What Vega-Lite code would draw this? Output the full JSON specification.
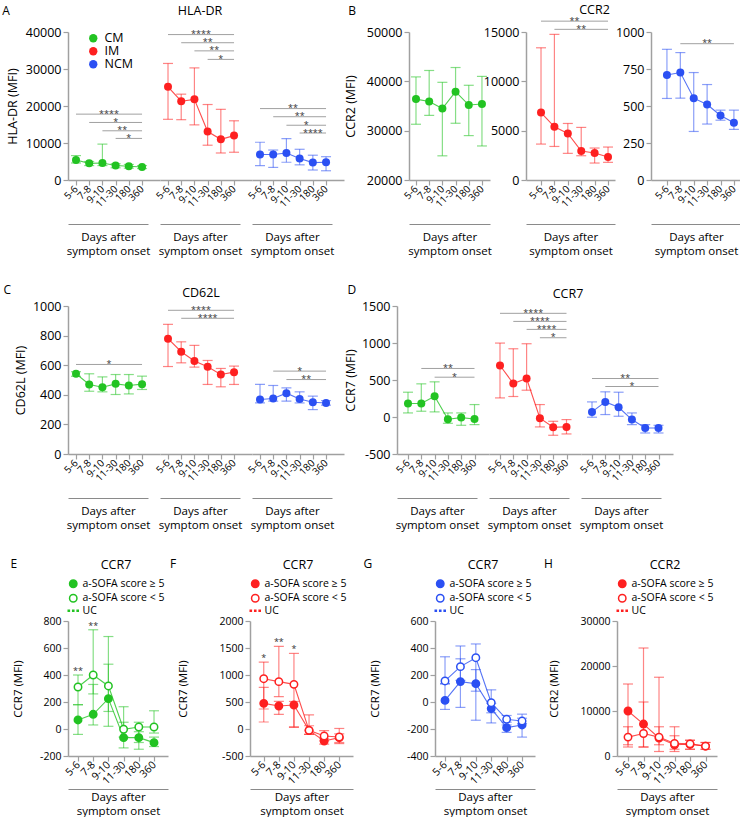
{
"$schema":"https://vega.github.io/schema/vega-lite/v6.json",
"padding":{"left":2,"top":4,"right":0,"bottom":0},
"config":{"font":"Open Sans","view":{"stroke":null},
"axis":{"grid":false,"domainColor":"#a0a0a0","domainWidth":1.5,"tickColor":"#a0a0a0","tickWidth":1.2,"tickSize":5,"labelColor":"#000","titleColor":"#000","titleFontWeight":"normal","labelPadding":2},
"axisY":{"labelFontSize":12.5,"titleFontSize":12.5,"labelOverlap":false,"tickCount":20},
"title":{"fontWeight":"normal","fontSize":12.5,"color":"#000"},
"legend":{"labelColor":"#000","titleColor":"#000"}},
"datasets":{
"pts":[
{"panel":"A-CM","cell":"CM","d":1,"mean":5400,"lo":4600,"hi":6600},{"panel":"A-CM","cell":"CM","d":2,"mean":4500,"lo":3900,"hi":5000},{"panel":"A-CM","cell":"CM","d":3,"mean":4600,"lo":3900,"hi":9700},{"panel":"A-CM","cell":"CM","d":4,"mean":3900,"lo":3300,"hi":4400},{"panel":"A-CM","cell":"CM","d":5,"mean":3700,"lo":3200,"hi":4200},{"panel":"A-CM","cell":"CM","d":6,"mean":3500,"lo":3100,"hi":3900},
{"panel":"A-IM","cell":"IM","d":1,"mean":25200,"lo":16400,"hi":31500},{"panel":"A-IM","cell":"IM","d":2,"mean":21300,"lo":16300,"hi":23200},{"panel":"A-IM","cell":"IM","d":3,"mean":21800,"lo":14900,"hi":30300},{"panel":"A-IM","cell":"IM","d":4,"mean":13100,"lo":9400,"hi":20400},{"panel":"A-IM","cell":"IM","d":5,"mean":11000,"lo":7300,"hi":19100},{"panel":"A-IM","cell":"IM","d":6,"mean":12000,"lo":7500,"hi":16000},
{"panel":"A-NCM","cell":"NCM","d":1,"mean":6900,"lo":3900,"hi":10200},{"panel":"A-NCM","cell":"NCM","d":2,"mean":6900,"lo":3400,"hi":8100},{"panel":"A-NCM","cell":"NCM","d":3,"mean":7300,"lo":4800,"hi":11200},{"panel":"A-NCM","cell":"NCM","d":4,"mean":5800,"lo":4100,"hi":8300},{"panel":"A-NCM","cell":"NCM","d":5,"mean":4700,"lo":2700,"hi":6700},{"panel":"A-NCM","cell":"NCM","d":6,"mean":4800,"lo":2500,"hi":6300},
{"panel":"B-CM","cell":"CM","d":1,"mean":36400,"lo":31300,"hi":40900},{"panel":"B-CM","cell":"CM","d":2,"mean":35900,"lo":33100,"hi":42200},{"panel":"B-CM","cell":"CM","d":3,"mean":34500,"lo":24900,"hi":39800},{"panel":"B-CM","cell":"CM","d":4,"mean":37900,"lo":31500,"hi":42800},{"panel":"B-CM","cell":"CM","d":5,"mean":35200,"lo":29000,"hi":39200},{"panel":"B-CM","cell":"CM","d":6,"mean":35400,"lo":26900,"hi":41000},
{"panel":"B-IM","cell":"IM","d":1,"mean":6840,"lo":3640,"hi":13400},{"panel":"B-IM","cell":"IM","d":2,"mean":5390,"lo":3400,"hi":14760},{"panel":"B-IM","cell":"IM","d":3,"mean":4720,"lo":2700,"hi":5730},{"panel":"B-IM","cell":"IM","d":4,"mean":2930,"lo":2460,"hi":5330},{"panel":"B-IM","cell":"IM","d":5,"mean":2730,"lo":1720,"hi":3240},{"panel":"B-IM","cell":"IM","d":6,"mean":2330,"lo":1790,"hi":3340},
{"panel":"B-NCM","cell":"NCM","d":1,"mean":710,"lo":551,"hi":883},{"panel":"B-NCM","cell":"NCM","d":2,"mean":726,"lo":553,"hi":861},{"panel":"B-NCM","cell":"NCM","d":3,"mean":553,"lo":328,"hi":726},{"panel":"B-NCM","cell":"NCM","d":4,"mean":510,"lo":378,"hi":645},{"panel":"B-NCM","cell":"NCM","d":5,"mean":436,"lo":404,"hi":472},{"panel":"B-NCM","cell":"NCM","d":6,"mean":387,"lo":342,"hi":472},
{"panel":"C-CM","cell":"CM","d":1,"mean":542,"lo":525,"hi":556},{"panel":"C-CM","cell":"CM","d":2,"mean":470,"lo":424,"hi":542},{"panel":"C-CM","cell":"CM","d":3,"mean":451,"lo":420,"hi":521},{"panel":"C-CM","cell":"CM","d":4,"mean":474,"lo":402,"hi":537},{"panel":"C-CM","cell":"CM","d":5,"mean":463,"lo":406,"hi":537},{"panel":"C-CM","cell":"CM","d":6,"mean":472,"lo":436,"hi":526},
{"panel":"C-IM","cell":"IM","d":1,"mean":779,"lo":591,"hi":876},{"panel":"C-IM","cell":"IM","d":2,"mean":691,"lo":616,"hi":758},{"panel":"C-IM","cell":"IM","d":3,"mean":628,"lo":587,"hi":734},{"panel":"C-IM","cell":"IM","d":4,"mean":589,"lo":470,"hi":632},{"panel":"C-IM","cell":"IM","d":5,"mean":537,"lo":454,"hi":578},{"panel":"C-IM","cell":"IM","d":6,"mean":553,"lo":470,"hi":594},
{"panel":"C-NCM","cell":"NCM","d":1,"mean":368,"lo":345,"hi":470},{"panel":"C-NCM","cell":"NCM","d":2,"mean":375,"lo":357,"hi":463},{"panel":"C-NCM","cell":"NCM","d":3,"mean":411,"lo":357,"hi":447},{"panel":"C-NCM","cell":"NCM","d":4,"mean":372,"lo":345,"hi":420},{"panel":"C-NCM","cell":"NCM","d":5,"mean":350,"lo":300,"hi":391},{"panel":"C-NCM","cell":"NCM","d":6,"mean":345,"lo":330,"hi":361},
{"panel":"D-CM","cell":"CM","d":1,"mean":182,"lo":55,"hi":335},{"panel":"D-CM","cell":"CM","d":2,"mean":182,"lo":78,"hi":448},{"panel":"D-CM","cell":"CM","d":3,"mean":281,"lo":69,"hi":475},{"panel":"D-CM","cell":"CM","d":4,"mean":-30,"lo":-85,"hi":55},{"panel":"D-CM","cell":"CM","d":5,"mean":-8,"lo":-112,"hi":55},{"panel":"D-CM","cell":"CM","d":6,"mean":-26,"lo":-103,"hi":168},
{"panel":"D-IM","cell":"IM","d":1,"mean":696,"lo":258,"hi":999},{"panel":"D-IM","cell":"IM","d":2,"mean":453,"lo":277,"hi":922},{"panel":"D-IM","cell":"IM","d":3,"mean":520,"lo":362,"hi":990},{"panel":"D-IM","cell":"IM","d":4,"mean":-17,"lo":-134,"hi":168},{"panel":"D-IM","cell":"IM","d":5,"mean":-139,"lo":-247,"hi":-58},{"panel":"D-IM","cell":"IM","d":6,"mean":-134,"lo":-229,"hi":-35},
{"panel":"D-NCM","cell":"NCM","d":1,"mean":69,"lo":-3,"hi":204},{"panel":"D-NCM","cell":"NCM","d":2,"mean":204,"lo":33,"hi":340},{"panel":"D-NCM","cell":"NCM","d":3,"mean":132,"lo":10,"hi":335},{"panel":"D-NCM","cell":"NCM","d":4,"mean":-35,"lo":-103,"hi":55},{"panel":"D-NCM","cell":"NCM","d":5,"mean":-148,"lo":-216,"hi":-103},{"panel":"D-NCM","cell":"NCM","d":6,"mean":-148,"lo":-216,"hi":-112},
{"panel":"E","grp":"a-SOFA score ≥ 5","d":1,"mean":67,"lo":-40,"hi":180},{"panel":"E","grp":"a-SOFA score ≥ 5","d":2,"mean":109,"lo":30,"hi":330},{"panel":"E","grp":"a-SOFA score ≥ 5","d":3,"mean":225,"lo":20,"hi":480},{"panel":"E","grp":"a-SOFA score ≥ 5","d":4,"mean":-64,"lo":-140,"hi":50},{"panel":"E","grp":"a-SOFA score ≥ 5","d":5,"mean":-64,"lo":-150,"hi":-20},{"panel":"E","grp":"a-SOFA score ≥ 5","d":6,"mean":-101,"lo":-130,"hi":-60},
{"panel":"E","grp":"a-SOFA score < 5","d":1,"mean":311,"lo":180,"hi":400},{"panel":"E","grp":"a-SOFA score < 5","d":2,"mean":400,"lo":260,"hi":735},{"panel":"E","grp":"a-SOFA score < 5","d":3,"mean":319,"lo":130,"hi":685},{"panel":"E","grp":"a-SOFA score < 5","d":4,"mean":-2,"lo":-60,"hi":165},{"panel":"E","grp":"a-SOFA score < 5","d":5,"mean":15,"lo":-100,"hi":50},{"panel":"E","grp":"a-SOFA score < 5","d":6,"mean":15,"lo":-30,"hi":135},
{"panel":"F","grp":"a-SOFA score ≥ 5","d":1,"mean":475,"lo":130,"hi":770},{"panel":"F","grp":"a-SOFA score ≥ 5","d":2,"mean":426,"lo":270,"hi":510},{"panel":"F","grp":"a-SOFA score ≥ 5","d":3,"mean":444,"lo":30,"hi":510},{"panel":"F","grp":"a-SOFA score ≥ 5","d":4,"mean":-25,"lo":-100,"hi":60},{"panel":"F","grp":"a-SOFA score ≥ 5","d":5,"mean":-222,"lo":-280,"hi":-180},{"panel":"F","grp":"a-SOFA score ≥ 5","d":6,"mean":-160,"lo":-250,"hi":-90},
{"panel":"F","grp":"a-SOFA score < 5","d":1,"mean":932,"lo":370,"hi":1240},{"panel":"F","grp":"a-SOFA score < 5","d":2,"mean":877,"lo":600,"hi":1530},{"panel":"F","grp":"a-SOFA score < 5","d":3,"mean":827,"lo":40,"hi":1400},{"panel":"F","grp":"a-SOFA score < 5","d":4,"mean":-25,"lo":-100,"hi":260},{"panel":"F","grp":"a-SOFA score < 5","d":5,"mean":-130,"lo":-220,"hi":-30},{"panel":"F","grp":"a-SOFA score < 5","d":6,"mean":-148,"lo":-270,"hi":10},
{"panel":"G","grp":"a-SOFA score ≥ 5","d":1,"mean":12,"lo":-55,"hi":135},{"panel":"G","grp":"a-SOFA score ≥ 5","d":2,"mean":151,"lo":-40,"hi":320},{"panel":"G","grp":"a-SOFA score ≥ 5","d":3,"mean":136,"lo":-135,"hi":240},{"panel":"G","grp":"a-SOFA score ≥ 5","d":4,"mean":-49,"lo":-155,"hi":-10},{"panel":"G","grp":"a-SOFA score ≥ 5","d":5,"mean":-190,"lo":-225,"hi":-170},{"panel":"G","grp":"a-SOFA score ≥ 5","d":6,"mean":-170,"lo":-260,"hi":-120},
{"panel":"G","grp":"a-SOFA score < 5","d":1,"mean":156,"lo":135,"hi":335},{"panel":"G","grp":"a-SOFA score < 5","d":2,"mean":262,"lo":160,"hi":415},{"panel":"G","grp":"a-SOFA score < 5","d":3,"mean":328,"lo":80,"hi":430},{"panel":"G","grp":"a-SOFA score < 5","d":4,"mean":-5,"lo":-80,"hi":90},{"panel":"G","grp":"a-SOFA score < 5","d":5,"mean":-128,"lo":-150,"hi":-100},{"panel":"G","grp":"a-SOFA score < 5","d":6,"mean":-141,"lo":-160,"hi":-90},
{"panel":"H","grp":"a-SOFA score ≥ 5","d":1,"mean":10000,"lo":2000,"hi":16000},{"panel":"H","grp":"a-SOFA score ≥ 5","d":2,"mean":7100,"lo":2000,"hi":24000},{"panel":"H","grp":"a-SOFA score ≥ 5","d":3,"mean":4000,"lo":1000,"hi":17500},{"panel":"H","grp":"a-SOFA score ≥ 5","d":4,"mean":2500,"lo":1000,"hi":6500},{"panel":"H","grp":"a-SOFA score ≥ 5","d":5,"mean":2600,"lo":1500,"hi":3500},{"panel":"H","grp":"a-SOFA score ≥ 5","d":6,"mean":2200,"lo":1500,"hi":3000},
{"panel":"H","grp":"a-SOFA score < 5","d":1,"mean":4200,"lo":2500,"hi":6500},{"panel":"H","grp":"a-SOFA score < 5","d":2,"mean":5000,"lo":2000,"hi":12000},{"panel":"H","grp":"a-SOFA score < 5","d":3,"mean":4200,"lo":2500,"hi":6500},{"panel":"H","grp":"a-SOFA score < 5","d":4,"mean":2800,"lo":1500,"hi":4500},{"panel":"H","grp":"a-SOFA score < 5","d":5,"mean":2700,"lo":1500,"hi":3500},{"panel":"H","grp":"a-SOFA score < 5","d":6,"mean":2200,"lo":1500,"hi":3000}
],
"uc":[{"panel":"A-CM","uc":3150},{"panel":"A-IM","uc":13100},{"panel":"A-NCM","uc":5000},{"panel":"B-CM","uc":35200},{"panel":"B-IM","uc":2190},{"panel":"B-NCM","uc":445},{"panel":"C-CM","uc":458},{"panel":"C-IM","uc":470},{"panel":"C-NCM","uc":318},{"panel":"D-CM","uc":-12},{"panel":"D-IM","uc":-170},{"panel":"D-NCM","uc":-157},{"panel":"E","uc":-20},{"panel":"F","uc":-173},{"panel":"G","uc":-160},{"panel":"H","uc":2000}],
"sig":[
{"panel":"A-CM","a":1,"b":6,"y":17800,"lab":"****"},{"panel":"A-CM","a":2,"b":6,"y":15550,"lab":"*"},{"panel":"A-CM","a":3,"b":6,"y":13300,"lab":"**"},{"panel":"A-CM","a":4,"b":6,"y":11240,"lab":"*"},
{"panel":"A-IM","a":1,"b":6,"y":39300,"lab":"****"},{"panel":"A-IM","a":2,"b":6,"y":37100,"lab":"**"},{"panel":"A-IM","a":3,"b":6,"y":34900,"lab":"**"},{"panel":"A-IM","a":4,"b":6,"y":32600,"lab":"*"},
{"panel":"A-NCM","a":1,"b":6,"y":19300,"lab":"**"},{"panel":"A-NCM","a":2,"b":6,"y":17100,"lab":"**"},{"panel":"A-NCM","a":3,"b":6,"y":14800,"lab":"*"},{"panel":"A-NCM","a":4,"b":6,"y":12700,"lab":"****"},
{"panel":"B-IM","a":1,"b":6,"y":16100,"lab":"**"},{"panel":"B-IM","a":2,"b":6,"y":15270,"lab":"**"},
{"panel":"B-NCM","a":2,"b":6,"y":921,"lab":"**"},
{"panel":"C-CM","a":1,"b":6,"y":605,"lab":"*"},
{"panel":"C-IM","a":1,"b":6,"y":971,"lab":"****"},{"panel":"C-IM","a":2,"b":6,"y":917,"lab":"****"},
{"panel":"C-NCM","a":2,"b":6,"y":560,"lab":"*"},{"panel":"C-NCM","a":3,"b":6,"y":503,"lab":"**"},
{"panel":"D-CM","a":2,"b":6,"y":656,"lab":"**"},{"panel":"D-CM","a":3,"b":6,"y":538,"lab":"*"},
{"panel":"D-IM","a":1,"b":6,"y":1401,"lab":"****"},{"panel":"D-IM","a":2,"b":6,"y":1292,"lab":"****"},{"panel":"D-IM","a":3,"b":6,"y":1184,"lab":"****"},{"panel":"D-IM","a":4,"b":6,"y":1071,"lab":"*"},
{"panel":"D-NCM","a":1,"b":6,"y":520,"lab":"**"},{"panel":"D-NCM","a":2,"b":6,"y":412,"lab":"*"}
],
"psig":[{"panel":"E","d":1,"y":400,"lab":"**"},{"panel":"E","d":2,"y":735,"lab":"**"},{"panel":"F","d":1,"y":1240,"lab":"*"},{"panel":"F","d":2,"y":1530,"lab":"**"},{"panel":"F","d":3,"y":1400,"lab":"*"}]
},
"spacing":27,
"resolve":{"scale":{"x":"independent","y":"independent","color":"independent","fill":"independent","shape":"independent","stroke":"independent"},"legend":{"color":"independent","fill":"independent","shape":"independent","stroke":"independent"}},
"vconcat":[
{"hconcat":[
 {"hconcat":[
  {"width":92,"height":148,"title":{"text":"A","anchor":"start","frame":"bounds","dx":-4,"offset":8,"fontSize":12},
   "data":{"name":"pts"},"transform":[{"filter":"datum.panel == 'A-CM'"}],
   "encoding":{"x":{"field":"d","type":"quantitative","scale":{"domain":[0.394,7.36],"nice":false,"zero":false},"axis":null}},
   "resolve":{"axis":{"x":"independent"}},
   "layer":[
    {"mark":{"type":"rule","color":"#22c322","opacity":0.55,"strokeWidth":1.2},"encoding":{"x":{"field":"d","type":"quantitative","scale":{"domain":[0.394,7.36],"nice":false,"zero":false},"axis":{"orient":"bottom","offset":44,"ticks":false,"labels":false,"domainDash":[80,12],"domainWidth":1,"domainColor":"#8a8a8a","title":["Days after","symptom onset"],"titleFontSize":11.5,"titlePadding":7,"titleLineHeight":14,"titleX":40}},"y":{"field":"lo","type":"quantitative","scale":{"domain":[0,40000],"nice":false,"zero":false},"axis":{"title":"HLA-DR (MFI)","values":[0,10000,20000,30000,40000],"tickCount":20,"labelExpr":"'' + datum.value","labelOverlap":false,"titlePadding":6}},"y2":{"field":"hi"}}},
    {"mark":{"type":"tick","orient":"horizontal","color":"#22c322","opacity":0.55,"size":10,"thickness":1.2},"encoding":{"x":{"field":"d","type":"quantitative","scale":{"domain":[0.394,7.36],"nice":false,"zero":false},"axis":{"orient":"bottom","domain":true,"domainColor":"#a0a0a0","domainWidth":1.5,"ticks":true,"values":[1,2,3,4,5,6],"tickCount":20,"labelExpr":"['5-6','7-8','9-10','11-30','180','360'][datum.value - 1]","labelAngle":-45,"labelAlign":"right","labelBaseline":"middle","labelFontSize":10,"labelOverlap":false,"labelFlush":false,"labelBound":false,"title":null}},"y":{"field":"hi","type":"quantitative","scale":{"domain":[0,40000],"nice":false,"zero":false}}}},
    {"mark":{"type":"tick","orient":"horizontal","color":"#22c322","opacity":0.55,"size":10,"thickness":1.2},"encoding":{"y":{"field":"lo","type":"quantitative","scale":{"domain":[0,40000],"nice":false,"zero":false}}}},
    {"mark":{"type":"line","color":"#22c322","strokeWidth":1.1,"opacity":0.8},"encoding":{"y":{"field":"mean","type":"quantitative","scale":{"domain":[0,40000],"nice":false,"zero":false}}}},
    {"data":{"name":"uc"},"transform":[{"filter":"datum.panel == 'A-CM'"}],"mark":{"type":"rule","color":"#22c322","strokeWidth":3,"strokeDash":[3,2]},"encoding":{"x":{"datum":0.6,"type":"quantitative","scale":{"domain":[0.394,7.36],"nice":false,"zero":false},"axis":null},"x2":{"datum":6.4},"y":{"field":"uc","type":"quantitative","scale":{"domain":[0,40000],"nice":false,"zero":false}}}},
    {"mark":{"type":"circle","size":64,"opacity":1},"encoding":{"y":{"field":"mean","type":"quantitative","scale":{"domain":[0,40000],"nice":false,"zero":false}},"color":{"field":"cell","type":"nominal","scale":{"domain":["CM","IM","NCM"],"range":["#22c322","#fe2020","#2b50f3"]},"legend":{"title":null,"orient":"none","legendX":19,"legendY":0,"labelFontSize":12.5,"symbolSize":70,"rowPadding":0,"symbolType":"circle","labelOffset":5,"padding":0}}}},
    {"data":{"name":"sig"},"transform":[{"filter":"datum.panel == 'A-CM'"}],"mark":{"type":"rule","color":"#a0a0a0","strokeWidth":1},"encoding":{"x":{"field":"a","type":"quantitative","scale":{"domain":[0.394,7.36],"nice":false,"zero":false},"axis":null},"x2":{"field":"b"},"y":{"field":"y","type":"quantitative","scale":{"domain":[0,40000],"nice":false,"zero":false}}}},
    {"data":{"name":"sig"},"transform":[{"filter":"datum.panel == 'A-CM'"},{"fold":["a","b"]},{"aggregate":[{"op":"mean","field":"value","as":"m"}],"groupby":["lab","y"]}],"mark":{"type":"text","fontSize":9,"color":"#333","baseline":"alphabetic","dy":2.5},"encoding":{"x":{"field":"m","type":"quantitative","scale":{"domain":[0.394,7.36],"nice":false,"zero":false},"axis":null},"y":{"field":"y","type":"quantitative","scale":{"domain":[0,40000],"nice":false,"zero":false}},"text":{"field":"lab","type":"nominal"}}}
   ]},
  {"width":92,"height":148,"title":{"text":"HLA-DR","anchor":"middle","frame":"group","dx":-6,"offset":13},
   "data":{"name":"pts"},"transform":[{"filter":"datum.panel == 'A-IM'"}],
   "encoding":{"x":{"field":"d","type":"quantitative","scale":{"domain":[0.394,7.36],"nice":false,"zero":false},"axis":null}},
   "resolve":{"axis":{"x":"independent"}},
   "layer":[
    {"mark":{"type":"rule","color":"#fe2020","opacity":0.55,"strokeWidth":1.2},"encoding":{"x":{"field":"d","type":"quantitative","scale":{"domain":[0.394,7.36],"nice":false,"zero":false},"axis":{"orient":"bottom","offset":44,"ticks":false,"labels":false,"domainDash":[80,12],"domainWidth":1,"domainColor":"#8a8a8a","title":["Days after","symptom onset"],"titleFontSize":11.5,"titlePadding":7,"titleLineHeight":14,"titleX":40}},"y":{"field":"lo","type":"quantitative","scale":{"domain":[0,40000],"nice":false,"zero":false},"axis":null},"y2":{"field":"hi"}}},
    {"mark":{"type":"tick","orient":"horizontal","color":"#fe2020","opacity":0.55,"size":10,"thickness":1.2},"encoding":{"x":{"field":"d","type":"quantitative","scale":{"domain":[0.394,7.36],"nice":false,"zero":false},"axis":{"orient":"bottom","domain":true,"domainColor":"#a0a0a0","domainWidth":1.5,"ticks":true,"values":[1,2,3,4,5,6],"tickCount":20,"labelExpr":"['5-6','7-8','9-10','11-30','180','360'][datum.value - 1]","labelAngle":-45,"labelAlign":"right","labelBaseline":"middle","labelFontSize":10,"labelOverlap":false,"labelFlush":false,"labelBound":false,"title":null}},"y":{"field":"hi","type":"quantitative","scale":{"domain":[0,40000],"nice":false,"zero":false},"axis":null}}},
    {"mark":{"type":"tick","orient":"horizontal","color":"#fe2020","opacity":0.55,"size":10,"thickness":1.2},"encoding":{"y":{"field":"lo","type":"quantitative","scale":{"domain":[0,40000],"nice":false,"zero":false},"axis":null}}},
    {"mark":{"type":"line","color":"#fe2020","strokeWidth":1.1,"opacity":0.8},"encoding":{"y":{"field":"mean","type":"quantitative","scale":{"domain":[0,40000],"nice":false,"zero":false},"axis":null}}},
    {"data":{"name":"uc"},"transform":[{"filter":"datum.panel == 'A-IM'"}],"mark":{"type":"rule","color":"#fe2020","strokeWidth":3,"strokeDash":[3,2]},"encoding":{"x":{"datum":0.45,"type":"quantitative","scale":{"domain":[0.394,7.36],"nice":false,"zero":false},"axis":null},"x2":{"datum":6.3},"y":{"field":"uc","type":"quantitative","scale":{"domain":[0,40000],"nice":false,"zero":false},"axis":null}}},
    {"mark":{"type":"circle","size":64,"opacity":1,"color":"#fe2020"},"encoding":{"y":{"field":"mean","type":"quantitative","scale":{"domain":[0,40000],"nice":false,"zero":false},"axis":null}}},
    {"data":{"name":"sig"},"transform":[{"filter":"datum.panel == 'A-IM'"}],"mark":{"type":"rule","color":"#a0a0a0","strokeWidth":1},"encoding":{"x":{"field":"a","type":"quantitative","scale":{"domain":[0.394,7.36],"nice":false,"zero":false},"axis":null},"x2":{"field":"b"},"y":{"field":"y","type":"quantitative","scale":{"domain":[0,40000],"nice":false,"zero":false},"axis":null}}},
    {"data":{"name":"sig"},"transform":[{"filter":"datum.panel == 'A-IM'"},{"fold":["a","b"]},{"aggregate":[{"op":"mean","field":"value","as":"m"}],"groupby":["lab","y"]}],"mark":{"type":"text","fontSize":9,"color":"#333","baseline":"alphabetic","dy":2.5},"encoding":{"x":{"field":"m","type":"quantitative","scale":{"domain":[0.394,7.36],"nice":false,"zero":false},"axis":null},"y":{"field":"y","type":"quantitative","scale":{"domain":[0,40000],"nice":false,"zero":false},"axis":null},"text":{"field":"lab","type":"nominal"}}}
   ]},
  {"width":92,"height":148,
   "data":{"name":"pts"},"transform":[{"filter":"datum.panel == 'A-NCM'"}],
   "encoding":{"x":{"field":"d","type":"quantitative","scale":{"domain":[0.394,7.36],"nice":false,"zero":false},"axis":null}},
   "resolve":{"axis":{"x":"independent"}},
   "layer":[
    {"mark":{"type":"rule","color":"#2b50f3","opacity":0.55,"strokeWidth":1.2},"encoding":{"x":{"field":"d","type":"quantitative","scale":{"domain":[0.394,7.36],"nice":false,"zero":false},"axis":{"orient":"bottom","offset":44,"ticks":false,"labels":false,"domainDash":[80,12],"domainWidth":1,"domainColor":"#8a8a8a","title":["Days after","symptom onset"],"titleFontSize":11.5,"titlePadding":7,"titleLineHeight":14,"titleX":40}},"y":{"field":"lo","type":"quantitative","scale":{"domain":[0,40000],"nice":false,"zero":false},"axis":null},"y2":{"field":"hi"}}},
    {"mark":{"type":"tick","orient":"horizontal","color":"#2b50f3","opacity":0.55,"size":10,"thickness":1.2},"encoding":{"x":{"field":"d","type":"quantitative","scale":{"domain":[0.394,7.36],"nice":false,"zero":false},"axis":{"orient":"bottom","domain":true,"domainColor":"#a0a0a0","domainWidth":1.5,"ticks":true,"values":[1,2,3,4,5,6],"tickCount":20,"labelExpr":"['5-6','7-8','9-10','11-30','180','360'][datum.value - 1]","labelAngle":-45,"labelAlign":"right","labelBaseline":"middle","labelFontSize":10,"labelOverlap":false,"labelFlush":false,"labelBound":false,"title":null}},"y":{"field":"hi","type":"quantitative","scale":{"domain":[0,40000],"nice":false,"zero":false},"axis":null}}},
    {"mark":{"type":"tick","orient":"horizontal","color":"#2b50f3","opacity":0.55,"size":10,"thickness":1.2},"encoding":{"y":{"field":"lo","type":"quantitative","scale":{"domain":[0,40000],"nice":false,"zero":false},"axis":null}}},
    {"mark":{"type":"line","color":"#2b50f3","strokeWidth":1.1,"opacity":0.8},"encoding":{"y":{"field":"mean","type":"quantitative","scale":{"domain":[0,40000],"nice":false,"zero":false},"axis":null}}},
    {"data":{"name":"uc"},"transform":[{"filter":"datum.panel == 'A-NCM'"}],"mark":{"type":"rule","color":"#2b50f3","strokeWidth":3,"strokeDash":[3,2]},"encoding":{"x":{"datum":0.45,"type":"quantitative","scale":{"domain":[0.394,7.36],"nice":false,"zero":false},"axis":null},"x2":{"datum":6.35},"y":{"field":"uc","type":"quantitative","scale":{"domain":[0,40000],"nice":false,"zero":false},"axis":null}}},
    {"mark":{"type":"circle","size":64,"opacity":1,"color":"#2b50f3"},"encoding":{"y":{"field":"mean","type":"quantitative","scale":{"domain":[0,40000],"nice":false,"zero":false},"axis":null}}},
    {"data":{"name":"sig"},"transform":[{"filter":"datum.panel == 'A-NCM'"}],"mark":{"type":"rule","color":"#a0a0a0","strokeWidth":1},"encoding":{"x":{"field":"a","type":"quantitative","scale":{"domain":[0.394,7.36],"nice":false,"zero":false},"axis":null},"x2":{"field":"b"},"y":{"field":"y","type":"quantitative","scale":{"domain":[0,40000],"nice":false,"zero":false},"axis":null}}},
    {"data":{"name":"sig"},"transform":[{"filter":"datum.panel == 'A-NCM'"},{"fold":["a","b"]},{"aggregate":[{"op":"mean","field":"value","as":"m"}],"groupby":["lab","y"]}],"mark":{"type":"text","fontSize":9,"color":"#333","baseline":"alphabetic","dy":2.5},"encoding":{"x":{"field":"m","type":"quantitative","scale":{"domain":[0.394,7.36],"nice":false,"zero":false},"axis":null},"y":{"field":"y","type":"quantitative","scale":{"domain":[0,40000],"nice":false,"zero":false},"axis":null},"text":{"field":"lab","type":"nominal"}}}
   ]}
 ],"spacing":0,"bounds":"flush","resolve":{"scale":{"x":"independent","y":"independent","color":"independent"},"legend":{"color":"independent"}}},
 {"hconcat":[
  {"width":81,"height":148,"title":{"text":"B","anchor":"start","frame":"bounds","dx":4,"offset":8,"fontSize":12},
   "data":{"name":"pts"},"transform":[{"filter":"datum.panel == 'B-CM'"}],
   "encoding":{"x":{"field":"d","type":"quantitative","scale":{"domain":[0.47,6.61],"nice":false,"zero":false},"axis":null}},
   "resolve":{"axis":{"x":"independent"}},
   "layer":[
    {"mark":{"type":"rule","color":"#22c322","opacity":0.55,"strokeWidth":1.2},"encoding":{"x":{"field":"d","type":"quantitative","scale":{"domain":[0.47,6.61],"nice":false,"zero":false},"axis":{"orient":"bottom","offset":44,"ticks":false,"labels":false,"domainWidth":1,"domainColor":"#8a8a8a","title":["Days after","symptom onset"],"titleFontSize":11.5,"titlePadding":7,"titleLineHeight":14}},"y":{"field":"lo","type":"quantitative","scale":{"domain":[20000,50000],"nice":false,"zero":false},"axis":{"title":"CCR2 (MFI)","values":[20000,30000,40000,50000],"tickCount":20,"labelExpr":"'' + datum.value","labelOverlap":false,"titlePadding":9}},"y2":{"field":"hi"}}},
    {"mark":{"type":"tick","orient":"horizontal","color":"#22c322","opacity":0.55,"size":10,"thickness":1.2},"encoding":{"x":{"field":"d","type":"quantitative","scale":{"domain":[0.47,6.61],"nice":false,"zero":false},"axis":{"orient":"bottom","domain":true,"domainColor":"#a0a0a0","domainWidth":1.5,"ticks":true,"values":[1,2,3,4,5,6],"tickCount":20,"labelExpr":"['5-6','7-8','9-10','11-30','180','360'][datum.value - 1]","labelAngle":-45,"labelAlign":"right","labelBaseline":"middle","labelFontSize":10,"labelOverlap":false,"labelFlush":false,"labelBound":false,"title":null}},"y":{"field":"hi","type":"quantitative","scale":{"domain":[20000,50000],"nice":false,"zero":false}}}},
    {"mark":{"type":"tick","orient":"horizontal","color":"#22c322","opacity":0.55,"size":10,"thickness":1.2},"encoding":{"y":{"field":"lo","type":"quantitative","scale":{"domain":[20000,50000],"nice":false,"zero":false}}}},
    {"mark":{"type":"line","color":"#22c322","strokeWidth":1.1,"opacity":0.8},"encoding":{"y":{"field":"mean","type":"quantitative","scale":{"domain":[20000,50000],"nice":false,"zero":false}}}},
    {"data":{"name":"uc"},"transform":[{"filter":"datum.panel == 'B-CM'"}],"mark":{"type":"rule","color":"#22c322","strokeWidth":3,"strokeDash":[3,2]},"encoding":{"x":{"datum":0.5,"type":"quantitative","scale":{"domain":[0.47,6.61],"nice":false,"zero":false},"axis":null},"x2":{"datum":6.6},"y":{"field":"uc","type":"quantitative","scale":{"domain":[20000,50000],"nice":false,"zero":false}}}},
    {"mark":{"type":"circle","size":64,"opacity":1,"color":"#22c322"},"encoding":{"y":{"field":"mean","type":"quantitative","scale":{"domain":[20000,50000],"nice":false,"zero":false}}}}
   ]},
  {"width":89,"height":148,"title":{"text":"CCR2","anchor":"middle","frame":"group","dx":24,"offset":0},
   "data":{"name":"pts"},"transform":[{"filter":"datum.panel == 'B-IM'"}],
   "encoding":{"x":{"field":"d","type":"quantitative","scale":{"domain":[-0.12,6.52],"nice":false,"zero":false},"axis":null}},
   "resolve":{"axis":{"x":"independent"}},
   "layer":[
    {"mark":{"type":"rule","color":"#fe2020","opacity":0.55,"strokeWidth":1.2},"encoding":{"x":{"field":"d","type":"quantitative","scale":{"domain":[-0.12,6.52],"nice":false,"zero":false},"axis":{"orient":"bottom","offset":44,"ticks":false,"labels":false,"domainWidth":1,"domainColor":"#8a8a8a","title":["Days after","symptom onset"],"titleFontSize":11.5,"titlePadding":7,"titleLineHeight":14}},"y":{"field":"lo","type":"quantitative","scale":{"domain":[0,15000],"nice":false,"zero":false},"axis":{"title":null,"values":[0,5000,10000,15000],"tickCount":20,"labelExpr":"'' + datum.value","labelOverlap":false}},"y2":{"field":"hi"}}},
    {"mark":{"type":"tick","orient":"horizontal","color":"#fe2020","opacity":0.55,"size":10,"thickness":1.2},"encoding":{"x":{"field":"d","type":"quantitative","scale":{"domain":[-0.12,6.52],"nice":false,"zero":false},"axis":{"orient":"bottom","domain":true,"domainColor":"#a0a0a0","domainWidth":1.5,"ticks":true,"values":[1,2,3,4,5,6],"tickCount":20,"labelExpr":"['5-6','7-8','9-10','11-30','180','360'][datum.value - 1]","labelAngle":-45,"labelAlign":"right","labelBaseline":"middle","labelFontSize":10,"labelOverlap":false,"labelFlush":false,"labelBound":false,"title":null}},"y":{"field":"hi","type":"quantitative","scale":{"domain":[0,15000],"nice":false,"zero":false}}}},
    {"mark":{"type":"tick","orient":"horizontal","color":"#fe2020","opacity":0.55,"size":10,"thickness":1.2},"encoding":{"y":{"field":"lo","type":"quantitative","scale":{"domain":[0,15000],"nice":false,"zero":false}}}},
    {"mark":{"type":"line","color":"#fe2020","strokeWidth":1.1,"opacity":0.8},"encoding":{"y":{"field":"mean","type":"quantitative","scale":{"domain":[0,15000],"nice":false,"zero":false}}}},
    {"data":{"name":"uc"},"transform":[{"filter":"datum.panel == 'B-IM'"}],"mark":{"type":"rule","color":"#fe2020","strokeWidth":3,"strokeDash":[3,2]},"encoding":{"x":{"datum":0.7,"type":"quantitative","scale":{"domain":[-0.12,6.52],"nice":false,"zero":false},"axis":null},"x2":{"datum":6.2},"y":{"field":"uc","type":"quantitative","scale":{"domain":[0,15000],"nice":false,"zero":false}}}},
    {"mark":{"type":"circle","size":64,"opacity":1,"color":"#fe2020"},"encoding":{"y":{"field":"mean","type":"quantitative","scale":{"domain":[0,15000],"nice":false,"zero":false}}}},
    {"data":{"name":"sig"},"transform":[{"filter":"datum.panel == 'B-IM'"}],"mark":{"type":"rule","color":"#a0a0a0","strokeWidth":1},"encoding":{"x":{"field":"a","type":"quantitative","scale":{"domain":[-0.12,6.52],"nice":false,"zero":false},"axis":null},"x2":{"field":"b"},"y":{"field":"y","type":"quantitative","scale":{"domain":[0,15000],"nice":false,"zero":false}}}},
    {"data":{"name":"sig"},"transform":[{"filter":"datum.panel == 'B-IM'"},{"fold":["a","b"]},{"aggregate":[{"op":"mean","field":"value","as":"m"}],"groupby":["lab","y"]}],"mark":{"type":"text","fontSize":9,"color":"#333","baseline":"alphabetic","dy":2.5},"encoding":{"x":{"field":"m","type":"quantitative","scale":{"domain":[-0.12,6.52],"nice":false,"zero":false},"axis":null},"y":{"field":"y","type":"quantitative","scale":{"domain":[0,15000],"nice":false,"zero":false}},"text":{"field":"lab","type":"nominal"}}}
   ]},
  {"width":90,"height":148,
   "data":{"name":"pts"},"transform":[{"filter":"datum.panel == 'B-NCM'"}],
   "encoding":{"x":{"field":"d","type":"quantitative","scale":{"domain":[-0.19,6.53],"nice":false,"zero":false},"axis":null}},
   "resolve":{"axis":{"x":"independent"}},
   "layer":[
    {"mark":{"type":"rule","color":"#2b50f3","opacity":0.55,"strokeWidth":1.2},"encoding":{"x":{"field":"d","type":"quantitative","scale":{"domain":[-0.19,6.53],"nice":false,"zero":false},"axis":{"orient":"bottom","offset":44,"ticks":false,"labels":false,"domainWidth":1,"domainColor":"#8a8a8a","title":["Days after","symptom onset"],"titleFontSize":11.5,"titlePadding":7,"titleLineHeight":14}},"y":{"field":"lo","type":"quantitative","scale":{"domain":[0,1000],"nice":false,"zero":false},"axis":{"title":null,"values":[0,250,500,750,1000],"tickCount":20,"labelExpr":"'' + datum.value","labelOverlap":false}},"y2":{"field":"hi"}}},
    {"mark":{"type":"tick","orient":"horizontal","color":"#2b50f3","opacity":0.55,"size":10,"thickness":1.2},"encoding":{"x":{"field":"d","type":"quantitative","scale":{"domain":[-0.19,6.53],"nice":false,"zero":false},"axis":{"orient":"bottom","domain":true,"domainColor":"#a0a0a0","domainWidth":1.5,"ticks":true,"values":[1,2,3,4,5,6],"tickCount":20,"labelExpr":"['5-6','7-8','9-10','11-30','180','360'][datum.value - 1]","labelAngle":-45,"labelAlign":"right","labelBaseline":"middle","labelFontSize":10,"labelOverlap":false,"labelFlush":false,"labelBound":false,"title":null}},"y":{"field":"hi","type":"quantitative","scale":{"domain":[0,1000],"nice":false,"zero":false}}}},
    {"mark":{"type":"tick","orient":"horizontal","color":"#2b50f3","opacity":0.55,"size":10,"thickness":1.2},"encoding":{"y":{"field":"lo","type":"quantitative","scale":{"domain":[0,1000],"nice":false,"zero":false}}}},
    {"mark":{"type":"line","color":"#2b50f3","strokeWidth":1.1,"opacity":0.8},"encoding":{"y":{"field":"mean","type":"quantitative","scale":{"domain":[0,1000],"nice":false,"zero":false}}}},
    {"data":{"name":"uc"},"transform":[{"filter":"datum.panel == 'B-NCM'"}],"mark":{"type":"rule","color":"#2b50f3","strokeWidth":3,"strokeDash":[3,2]},"encoding":{"x":{"datum":-0.15,"type":"quantitative","scale":{"domain":[-0.19,6.53],"nice":false,"zero":false},"axis":null},"x2":{"datum":6.5},"y":{"field":"uc","type":"quantitative","scale":{"domain":[0,1000],"nice":false,"zero":false}}}},
    {"mark":{"type":"circle","size":64,"opacity":1,"color":"#2b50f3"},"encoding":{"y":{"field":"mean","type":"quantitative","scale":{"domain":[0,1000],"nice":false,"zero":false}}}},
    {"data":{"name":"sig"},"transform":[{"filter":"datum.panel == 'B-NCM'"}],"mark":{"type":"rule","color":"#a0a0a0","strokeWidth":1},"encoding":{"x":{"field":"a","type":"quantitative","scale":{"domain":[-0.19,6.53],"nice":false,"zero":false},"axis":null},"x2":{"field":"b"},"y":{"field":"y","type":"quantitative","scale":{"domain":[0,1000],"nice":false,"zero":false}}}},
    {"data":{"name":"sig"},"transform":[{"filter":"datum.panel == 'B-NCM'"},{"fold":["a","b"]},{"aggregate":[{"op":"mean","field":"value","as":"m"}],"groupby":["lab","y"]}],"mark":{"type":"text","fontSize":9,"color":"#333","baseline":"alphabetic","dy":2.5},"encoding":{"x":{"field":"m","type":"quantitative","scale":{"domain":[-0.19,6.53],"nice":false,"zero":false},"axis":null},"y":{"field":"y","type":"quantitative","scale":{"domain":[0,1000],"nice":false,"zero":false}},"text":{"field":"lab","type":"nominal"}}}
   ]}
 ],"spacing":36,"bounds":"flush","resolve":{"scale":{"x":"independent","y":"independent"}}}
],"spacing":0,"resolve":{"scale":{"x":"independent","y":"independent","color":"independent"},"legend":{"color":"independent"}}},
{"hconcat":[
 {"hconcat":[
  {"width":92,"height":148,"title":{"text":"C","anchor":"start","frame":"bounds","dx":-11,"offset":3,"fontSize":12},
   "data":{"name":"pts"},"transform":[{"filter":"datum.panel == 'C-CM'"}],
   "encoding":{"x":{"field":"d","type":"quantitative","scale":{"domain":[0.394,7.36],"nice":false,"zero":false},"axis":null}},
   "resolve":{"axis":{"x":"independent"}},
   "layer":[
    {"mark":{"type":"rule","color":"#22c322","opacity":0.55,"strokeWidth":1.2},"encoding":{"x":{"field":"d","type":"quantitative","scale":{"domain":[0.394,7.36],"nice":false,"zero":false},"axis":{"orient":"bottom","offset":44,"ticks":false,"labels":false,"domainDash":[80,12],"domainWidth":1,"domainColor":"#8a8a8a","title":["Days after","symptom onset"],"titleFontSize":11.5,"titlePadding":7,"titleLineHeight":14,"titleX":40}},"y":{"field":"lo","type":"quantitative","scale":{"domain":[0,1000],"nice":false,"zero":false},"axis":{"title":"CD62L (MFI)","values":[0,200,400,600,800,1000],"tickCount":20,"labelExpr":"'' + datum.value","labelOverlap":false,"titlePadding":5}},"y2":{"field":"hi"}}},
    {"mark":{"type":"tick","orient":"horizontal","color":"#22c322","opacity":0.55,"size":10,"thickness":1.2},"encoding":{"x":{"field":"d","type":"quantitative","scale":{"domain":[0.394,7.36],"nice":false,"zero":false},"axis":{"orient":"bottom","domain":true,"domainColor":"#a0a0a0","domainWidth":1.5,"ticks":true,"values":[1,2,3,4,5,6],"tickCount":20,"labelExpr":"['5-6','7-8','9-10','11-30','180','360'][datum.value - 1]","labelAngle":-45,"labelAlign":"right","labelBaseline":"middle","labelFontSize":10,"labelOverlap":false,"labelFlush":false,"labelBound":false,"title":null}},"y":{"field":"hi","type":"quantitative","scale":{"domain":[0,1000],"nice":false,"zero":false}}}},
    {"mark":{"type":"tick","orient":"horizontal","color":"#22c322","opacity":0.55,"size":10,"thickness":1.2},"encoding":{"y":{"field":"lo","type":"quantitative","scale":{"domain":[0,1000],"nice":false,"zero":false}}}},
    {"mark":{"type":"line","color":"#22c322","strokeWidth":1.1,"opacity":0.8},"encoding":{"y":{"field":"mean","type":"quantitative","scale":{"domain":[0,1000],"nice":false,"zero":false}}}},
    {"data":{"name":"uc"},"transform":[{"filter":"datum.panel == 'C-CM'"}],"mark":{"type":"rule","color":"#22c322","strokeWidth":3,"strokeDash":[3,2]},"encoding":{"x":{"datum":0.8,"type":"quantitative","scale":{"domain":[0.394,7.36],"nice":false,"zero":false},"axis":null},"x2":{"datum":6.2},"y":{"field":"uc","type":"quantitative","scale":{"domain":[0,1000],"nice":false,"zero":false}}}},
    {"mark":{"type":"circle","size":64,"opacity":1,"color":"#22c322"},"encoding":{"y":{"field":"mean","type":"quantitative","scale":{"domain":[0,1000],"nice":false,"zero":false}}}},
    {"data":{"name":"sig"},"transform":[{"filter":"datum.panel == 'C-CM'"}],"mark":{"type":"rule","color":"#a0a0a0","strokeWidth":1},"encoding":{"x":{"field":"a","type":"quantitative","scale":{"domain":[0.394,7.36],"nice":false,"zero":false},"axis":null},"x2":{"field":"b"},"y":{"field":"y","type":"quantitative","scale":{"domain":[0,1000],"nice":false,"zero":false}}}},
    {"data":{"name":"sig"},"transform":[{"filter":"datum.panel == 'C-CM'"},{"fold":["a","b"]},{"aggregate":[{"op":"mean","field":"value","as":"m"}],"groupby":["lab","y"]}],"mark":{"type":"text","fontSize":9,"color":"#333","baseline":"alphabetic","dy":2.5},"encoding":{"x":{"field":"m","type":"quantitative","scale":{"domain":[0.394,7.36],"nice":false,"zero":false},"axis":null},"y":{"field":"y","type":"quantitative","scale":{"domain":[0,1000],"nice":false,"zero":false}},"text":{"field":"lab","type":"nominal"}}}
   ]},
  {"width":92,"height":148,"title":{"text":"CD62L","anchor":"middle","frame":"group","dx":-5,"offset":6},
   "data":{"name":"pts"},"transform":[{"filter":"datum.panel == 'C-IM'"}],
   "encoding":{"x":{"field":"d","type":"quantitative","scale":{"domain":[0.394,7.36],"nice":false,"zero":false},"axis":null}},
   "resolve":{"axis":{"x":"independent"}},
   "layer":[
    {"mark":{"type":"rule","color":"#fe2020","opacity":0.55,"strokeWidth":1.2},"encoding":{"x":{"field":"d","type":"quantitative","scale":{"domain":[0.394,7.36],"nice":false,"zero":false},"axis":{"orient":"bottom","offset":44,"ticks":false,"labels":false,"domainDash":[80,12],"domainWidth":1,"domainColor":"#8a8a8a","title":["Days after","symptom onset"],"titleFontSize":11.5,"titlePadding":7,"titleLineHeight":14,"titleX":40}},"y":{"field":"lo","type":"quantitative","scale":{"domain":[0,1000],"nice":false,"zero":false},"axis":null},"y2":{"field":"hi"}}},
    {"mark":{"type":"tick","orient":"horizontal","color":"#fe2020","opacity":0.55,"size":10,"thickness":1.2},"encoding":{"x":{"field":"d","type":"quantitative","scale":{"domain":[0.394,7.36],"nice":false,"zero":false},"axis":{"orient":"bottom","domain":true,"domainColor":"#a0a0a0","domainWidth":1.5,"ticks":true,"values":[1,2,3,4,5,6],"tickCount":20,"labelExpr":"['5-6','7-8','9-10','11-30','180','360'][datum.value - 1]","labelAngle":-45,"labelAlign":"right","labelBaseline":"middle","labelFontSize":10,"labelOverlap":false,"labelFlush":false,"labelBound":false,"title":null}},"y":{"field":"hi","type":"quantitative","scale":{"domain":[0,1000],"nice":false,"zero":false},"axis":null}}},
    {"mark":{"type":"tick","orient":"horizontal","color":"#fe2020","opacity":0.55,"size":10,"thickness":1.2},"encoding":{"y":{"field":"lo","type":"quantitative","scale":{"domain":[0,1000],"nice":false,"zero":false},"axis":null}}},
    {"mark":{"type":"line","color":"#fe2020","strokeWidth":1.1,"opacity":0.8},"encoding":{"y":{"field":"mean","type":"quantitative","scale":{"domain":[0,1000],"nice":false,"zero":false},"axis":null}}},
    {"data":{"name":"uc"},"transform":[{"filter":"datum.panel == 'C-IM'"}],"mark":{"type":"rule","color":"#fe2020","strokeWidth":3,"strokeDash":[3,2]},"encoding":{"x":{"datum":0.45,"type":"quantitative","scale":{"domain":[0.394,7.36],"nice":false,"zero":false},"axis":null},"x2":{"datum":6.2},"y":{"field":"uc","type":"quantitative","scale":{"domain":[0,1000],"nice":false,"zero":false},"axis":null}}},
    {"mark":{"type":"circle","size":64,"opacity":1,"color":"#fe2020"},"encoding":{"y":{"field":"mean","type":"quantitative","scale":{"domain":[0,1000],"nice":false,"zero":false},"axis":null}}},
    {"data":{"name":"sig"},"transform":[{"filter":"datum.panel == 'C-IM'"}],"mark":{"type":"rule","color":"#a0a0a0","strokeWidth":1},"encoding":{"x":{"field":"a","type":"quantitative","scale":{"domain":[0.394,7.36],"nice":false,"zero":false},"axis":null},"x2":{"field":"b"},"y":{"field":"y","type":"quantitative","scale":{"domain":[0,1000],"nice":false,"zero":false},"axis":null}}},
    {"data":{"name":"sig"},"transform":[{"filter":"datum.panel == 'C-IM'"},{"fold":["a","b"]},{"aggregate":[{"op":"mean","field":"value","as":"m"}],"groupby":["lab","y"]}],"mark":{"type":"text","fontSize":9,"color":"#333","baseline":"alphabetic","dy":2.5},"encoding":{"x":{"field":"m","type":"quantitative","scale":{"domain":[0.394,7.36],"nice":false,"zero":false},"axis":null},"y":{"field":"y","type":"quantitative","scale":{"domain":[0,1000],"nice":false,"zero":false},"axis":null},"text":{"field":"lab","type":"nominal"}}}
   ]},
  {"width":92,"height":148,
   "data":{"name":"pts"},"transform":[{"filter":"datum.panel == 'C-NCM'"}],
   "encoding":{"x":{"field":"d","type":"quantitative","scale":{"domain":[0.394,7.36],"nice":false,"zero":false},"axis":null}},
   "resolve":{"axis":{"x":"independent"}},
   "layer":[
    {"mark":{"type":"rule","color":"#2b50f3","opacity":0.55,"strokeWidth":1.2},"encoding":{"x":{"field":"d","type":"quantitative","scale":{"domain":[0.394,7.36],"nice":false,"zero":false},"axis":{"orient":"bottom","offset":44,"ticks":false,"labels":false,"domainDash":[80,12],"domainWidth":1,"domainColor":"#8a8a8a","title":["Days after","symptom onset"],"titleFontSize":11.5,"titlePadding":7,"titleLineHeight":14,"titleX":40}},"y":{"field":"lo","type":"quantitative","scale":{"domain":[0,1000],"nice":false,"zero":false},"axis":null},"y2":{"field":"hi"}}},
    {"mark":{"type":"tick","orient":"horizontal","color":"#2b50f3","opacity":0.55,"size":10,"thickness":1.2},"encoding":{"x":{"field":"d","type":"quantitative","scale":{"domain":[0.394,7.36],"nice":false,"zero":false},"axis":{"orient":"bottom","domain":true,"domainColor":"#a0a0a0","domainWidth":1.5,"ticks":true,"values":[1,2,3,4,5,6],"tickCount":20,"labelExpr":"['5-6','7-8','9-10','11-30','180','360'][datum.value - 1]","labelAngle":-45,"labelAlign":"right","labelBaseline":"middle","labelFontSize":10,"labelOverlap":false,"labelFlush":false,"labelBound":false,"title":null}},"y":{"field":"hi","type":"quantitative","scale":{"domain":[0,1000],"nice":false,"zero":false},"axis":null}}},
    {"mark":{"type":"tick","orient":"horizontal","color":"#2b50f3","opacity":0.55,"size":10,"thickness":1.2},"encoding":{"y":{"field":"lo","type":"quantitative","scale":{"domain":[0,1000],"nice":false,"zero":false},"axis":null}}},
    {"mark":{"type":"line","color":"#2b50f3","strokeWidth":1.1,"opacity":0.8},"encoding":{"y":{"field":"mean","type":"quantitative","scale":{"domain":[0,1000],"nice":false,"zero":false},"axis":null}}},
    {"data":{"name":"uc"},"transform":[{"filter":"datum.panel == 'C-NCM'"}],"mark":{"type":"rule","color":"#2b50f3","strokeWidth":3,"strokeDash":[3,2]},"encoding":{"x":{"datum":0.45,"type":"quantitative","scale":{"domain":[0.394,7.36],"nice":false,"zero":false},"axis":null},"x2":{"datum":6.25},"y":{"field":"uc","type":"quantitative","scale":{"domain":[0,1000],"nice":false,"zero":false},"axis":null}}},
    {"mark":{"type":"circle","size":64,"opacity":1,"color":"#2b50f3"},"encoding":{"y":{"field":"mean","type":"quantitative","scale":{"domain":[0,1000],"nice":false,"zero":false},"axis":null}}},
    {"data":{"name":"sig"},"transform":[{"filter":"datum.panel == 'C-NCM'"}],"mark":{"type":"rule","color":"#a0a0a0","strokeWidth":1},"encoding":{"x":{"field":"a","type":"quantitative","scale":{"domain":[0.394,7.36],"nice":false,"zero":false},"axis":null},"x2":{"field":"b"},"y":{"field":"y","type":"quantitative","scale":{"domain":[0,1000],"nice":false,"zero":false},"axis":null}}},
    {"data":{"name":"sig"},"transform":[{"filter":"datum.panel == 'C-NCM'"},{"fold":["a","b"]},{"aggregate":[{"op":"mean","field":"value","as":"m"}],"groupby":["lab","y"]}],"mark":{"type":"text","fontSize":9,"color":"#333","baseline":"alphabetic","dy":2.5},"encoding":{"x":{"field":"m","type":"quantitative","scale":{"domain":[0.394,7.36],"nice":false,"zero":false},"axis":null},"y":{"field":"y","type":"quantitative","scale":{"domain":[0,1000],"nice":false,"zero":false},"axis":null},"text":{"field":"lab","type":"nominal"}}}
   ]}
 ],"spacing":0,"bounds":"flush","resolve":{"scale":{"x":"independent","y":"independent"}}},
 {"hconcat":[
  {"width":92,"height":148,"title":{"text":"D","anchor":"start","frame":"bounds","dx":3,"offset":3,"fontSize":12},
   "data":{"name":"pts"},"transform":[{"filter":"datum.panel == 'D-CM'"}],
   "encoding":{"x":{"field":"d","type":"quantitative","scale":{"domain":[0.173,7.09],"nice":false,"zero":false},"axis":null}},
   "resolve":{"axis":{"x":"independent"}},
   "layer":[
    {"mark":{"type":"rule","color":"#22c322","opacity":0.55,"strokeWidth":1.2},"encoding":{"x":{"field":"d","type":"quantitative","scale":{"domain":[0.173,7.09],"nice":false,"zero":false},"axis":{"orient":"bottom","offset":44,"ticks":false,"labels":false,"domainDash":[80,12],"domainWidth":1,"domainColor":"#8a8a8a","title":["Days after","symptom onset"],"titleFontSize":11.5,"titlePadding":7,"titleLineHeight":14,"titleX":40}},"y":{"field":"lo","type":"quantitative","scale":{"domain":[-500,1500],"nice":false,"zero":false},"axis":{"title":"CCR7 (MFI)","values":[-500,0,500,1000,1500],"tickCount":20,"labelExpr":"'' + datum.value","labelOverlap":false,"titlePadding":4}},"y2":{"field":"hi"}}},
    {"mark":{"type":"tick","orient":"horizontal","color":"#22c322","opacity":0.55,"size":10,"thickness":1.2},"encoding":{"x":{"field":"d","type":"quantitative","scale":{"domain":[0.173,7.09],"nice":false,"zero":false},"axis":{"orient":"bottom","domain":true,"domainColor":"#a0a0a0","domainWidth":1.5,"ticks":true,"values":[1,2,3,4,5,6],"tickCount":20,"labelExpr":"['5-6','7-8','9-10','11-30','180','360'][datum.value - 1]","labelAngle":-45,"labelAlign":"right","labelBaseline":"middle","labelFontSize":10,"labelOverlap":false,"labelFlush":false,"labelBound":false,"title":null}},"y":{"field":"hi","type":"quantitative","scale":{"domain":[-500,1500],"nice":false,"zero":false}}}},
    {"mark":{"type":"tick","orient":"horizontal","color":"#22c322","opacity":0.55,"size":10,"thickness":1.2},"encoding":{"y":{"field":"lo","type":"quantitative","scale":{"domain":[-500,1500],"nice":false,"zero":false}}}},
    {"mark":{"type":"line","color":"#22c322","strokeWidth":1.1,"opacity":0.8},"encoding":{"y":{"field":"mean","type":"quantitative","scale":{"domain":[-500,1500],"nice":false,"zero":false}}}},
    {"data":{"name":"uc"},"transform":[{"filter":"datum.panel == 'D-CM'"}],"mark":{"type":"rule","color":"#22c322","strokeWidth":3,"strokeDash":[3,2]},"encoding":{"x":{"datum":0.25,"type":"quantitative","scale":{"domain":[0.173,7.09],"nice":false,"zero":false},"axis":null},"x2":{"datum":6.5},"y":{"field":"uc","type":"quantitative","scale":{"domain":[-500,1500],"nice":false,"zero":false}}}},
    {"mark":{"type":"circle","size":64,"opacity":1,"color":"#22c322"},"encoding":{"y":{"field":"mean","type":"quantitative","scale":{"domain":[-500,1500],"nice":false,"zero":false}}}},
    {"data":{"name":"sig"},"transform":[{"filter":"datum.panel == 'D-CM'"}],"mark":{"type":"rule","color":"#a0a0a0","strokeWidth":1},"encoding":{"x":{"field":"a","type":"quantitative","scale":{"domain":[0.173,7.09],"nice":false,"zero":false},"axis":null},"x2":{"field":"b"},"y":{"field":"y","type":"quantitative","scale":{"domain":[-500,1500],"nice":false,"zero":false}}}},
    {"data":{"name":"sig"},"transform":[{"filter":"datum.panel == 'D-CM'"},{"fold":["a","b"]},{"aggregate":[{"op":"mean","field":"value","as":"m"}],"groupby":["lab","y"]}],"mark":{"type":"text","fontSize":9,"color":"#333","baseline":"alphabetic","dy":2.5},"encoding":{"x":{"field":"m","type":"quantitative","scale":{"domain":[0.173,7.09],"nice":false,"zero":false},"axis":null},"y":{"field":"y","type":"quantitative","scale":{"domain":[-500,1500],"nice":false,"zero":false}},"text":{"field":"lab","type":"nominal"}}}
   ]},
  {"width":92,"height":148,"title":{"text":"CCR7","anchor":"middle","frame":"group","dx":33,"offset":6},
   "data":{"name":"pts"},"transform":[{"filter":"datum.panel == 'D-IM'"}],
   "encoding":{"x":{"field":"d","type":"quantitative","scale":{"domain":[0.173,7.09],"nice":false,"zero":false},"axis":null}},
   "resolve":{"axis":{"x":"independent"}},
   "layer":[
    {"mark":{"type":"rule","color":"#fe2020","opacity":0.55,"strokeWidth":1.2},"encoding":{"x":{"field":"d","type":"quantitative","scale":{"domain":[0.173,7.09],"nice":false,"zero":false},"axis":{"orient":"bottom","offset":44,"ticks":false,"labels":false,"domainDash":[80,12],"domainWidth":1,"domainColor":"#8a8a8a","title":["Days after","symptom onset"],"titleFontSize":11.5,"titlePadding":7,"titleLineHeight":14,"titleX":40}},"y":{"field":"lo","type":"quantitative","scale":{"domain":[-500,1500],"nice":false,"zero":false},"axis":null},"y2":{"field":"hi"}}},
    {"mark":{"type":"tick","orient":"horizontal","color":"#fe2020","opacity":0.55,"size":10,"thickness":1.2},"encoding":{"x":{"field":"d","type":"quantitative","scale":{"domain":[0.173,7.09],"nice":false,"zero":false},"axis":{"orient":"bottom","domain":true,"domainColor":"#a0a0a0","domainWidth":1.5,"ticks":true,"values":[1,2,3,4,5,6],"tickCount":20,"labelExpr":"['5-6','7-8','9-10','11-30','180','360'][datum.value - 1]","labelAngle":-45,"labelAlign":"right","labelBaseline":"middle","labelFontSize":10,"labelOverlap":false,"labelFlush":false,"labelBound":false,"title":null}},"y":{"field":"hi","type":"quantitative","scale":{"domain":[-500,1500],"nice":false,"zero":false},"axis":null}}},
    {"mark":{"type":"tick","orient":"horizontal","color":"#fe2020","opacity":0.55,"size":10,"thickness":1.2},"encoding":{"y":{"field":"lo","type":"quantitative","scale":{"domain":[-500,1500],"nice":false,"zero":false},"axis":null}}},
    {"mark":{"type":"line","color":"#fe2020","strokeWidth":1.1,"opacity":0.8},"encoding":{"y":{"field":"mean","type":"quantitative","scale":{"domain":[-500,1500],"nice":false,"zero":false},"axis":null}}},
    {"data":{"name":"uc"},"transform":[{"filter":"datum.panel == 'D-IM'"}],"mark":{"type":"rule","color":"#fe2020","strokeWidth":3,"strokeDash":[3,2]},"encoding":{"x":{"datum":0.3,"type":"quantitative","scale":{"domain":[0.173,7.09],"nice":false,"zero":false},"axis":null},"x2":{"datum":6.55},"y":{"field":"uc","type":"quantitative","scale":{"domain":[-500,1500],"nice":false,"zero":false},"axis":null}}},
    {"mark":{"type":"circle","size":64,"opacity":1,"color":"#fe2020"},"encoding":{"y":{"field":"mean","type":"quantitative","scale":{"domain":[-500,1500],"nice":false,"zero":false},"axis":null}}},
    {"data":{"name":"sig"},"transform":[{"filter":"datum.panel == 'D-IM'"}],"mark":{"type":"rule","color":"#a0a0a0","strokeWidth":1},"encoding":{"x":{"field":"a","type":"quantitative","scale":{"domain":[0.173,7.09],"nice":false,"zero":false},"axis":null},"x2":{"field":"b"},"y":{"field":"y","type":"quantitative","scale":{"domain":[-500,1500],"nice":false,"zero":false},"axis":null}}},
    {"data":{"name":"sig"},"transform":[{"filter":"datum.panel == 'D-IM'"},{"fold":["a","b"]},{"aggregate":[{"op":"mean","field":"value","as":"m"}],"groupby":["lab","y"]}],"mark":{"type":"text","fontSize":9,"color":"#333","baseline":"alphabetic","dy":2.5},"encoding":{"x":{"field":"m","type":"quantitative","scale":{"domain":[0.173,7.09],"nice":false,"zero":false},"axis":null},"y":{"field":"y","type":"quantitative","scale":{"domain":[-500,1500],"nice":false,"zero":false},"axis":null},"text":{"field":"lab","type":"nominal"}}}
   ]},
  {"width":92,"height":148,
   "data":{"name":"pts"},"transform":[{"filter":"datum.panel == 'D-NCM'"}],
   "encoding":{"x":{"field":"d","type":"quantitative","scale":{"domain":[0.173,7.09],"nice":false,"zero":false},"axis":null}},
   "resolve":{"axis":{"x":"independent"}},
   "layer":[
    {"mark":{"type":"rule","color":"#2b50f3","opacity":0.55,"strokeWidth":1.2},"encoding":{"x":{"field":"d","type":"quantitative","scale":{"domain":[0.173,7.09],"nice":false,"zero":false},"axis":{"orient":"bottom","offset":44,"ticks":false,"labels":false,"domainDash":[80,12],"domainWidth":1,"domainColor":"#8a8a8a","title":["Days after","symptom onset"],"titleFontSize":11.5,"titlePadding":7,"titleLineHeight":14,"titleX":40}},"y":{"field":"lo","type":"quantitative","scale":{"domain":[-500,1500],"nice":false,"zero":false},"axis":null},"y2":{"field":"hi"}}},
    {"mark":{"type":"tick","orient":"horizontal","color":"#2b50f3","opacity":0.55,"size":10,"thickness":1.2},"encoding":{"x":{"field":"d","type":"quantitative","scale":{"domain":[0.173,7.09],"nice":false,"zero":false},"axis":{"orient":"bottom","domain":true,"domainColor":"#a0a0a0","domainWidth":1.5,"ticks":true,"values":[1,2,3,4,5,6],"tickCount":20,"labelExpr":"['5-6','7-8','9-10','11-30','180','360'][datum.value - 1]","labelAngle":-45,"labelAlign":"right","labelBaseline":"middle","labelFontSize":10,"labelOverlap":false,"labelFlush":false,"labelBound":false,"title":null}},"y":{"field":"hi","type":"quantitative","scale":{"domain":[-500,1500],"nice":false,"zero":false},"axis":null}}},
    {"mark":{"type":"tick","orient":"horizontal","color":"#2b50f3","opacity":0.55,"size":10,"thickness":1.2},"encoding":{"y":{"field":"lo","type":"quantitative","scale":{"domain":[-500,1500],"nice":false,"zero":false},"axis":null}}},
    {"mark":{"type":"line","color":"#2b50f3","strokeWidth":1.1,"opacity":0.8},"encoding":{"y":{"field":"mean","type":"quantitative","scale":{"domain":[-500,1500],"nice":false,"zero":false},"axis":null}}},
    {"data":{"name":"uc"},"transform":[{"filter":"datum.panel == 'D-NCM'"}],"mark":{"type":"rule","color":"#2b50f3","strokeWidth":3,"strokeDash":[3,2]},"encoding":{"x":{"datum":0.7,"type":"quantitative","scale":{"domain":[0.173,7.09],"nice":false,"zero":false},"axis":null},"x2":{"datum":6.7},"y":{"field":"uc","type":"quantitative","scale":{"domain":[-500,1500],"nice":false,"zero":false},"axis":null}}},
    {"mark":{"type":"circle","size":64,"opacity":1,"color":"#2b50f3"},"encoding":{"y":{"field":"mean","type":"quantitative","scale":{"domain":[-500,1500],"nice":false,"zero":false},"axis":null}}},
    {"data":{"name":"sig"},"transform":[{"filter":"datum.panel == 'D-NCM'"}],"mark":{"type":"rule","color":"#a0a0a0","strokeWidth":1},"encoding":{"x":{"field":"a","type":"quantitative","scale":{"domain":[0.173,7.09],"nice":false,"zero":false},"axis":null},"x2":{"field":"b"},"y":{"field":"y","type":"quantitative","scale":{"domain":[-500,1500],"nice":false,"zero":false},"axis":null}}},
    {"data":{"name":"sig"},"transform":[{"filter":"datum.panel == 'D-NCM'"},{"fold":["a","b"]},{"aggregate":[{"op":"mean","field":"value","as":"m"}],"groupby":["lab","y"]}],"mark":{"type":"text","fontSize":9,"color":"#333","baseline":"alphabetic","dy":2.5},"encoding":{"x":{"field":"m","type":"quantitative","scale":{"domain":[0.173,7.09],"nice":false,"zero":false},"axis":null},"y":{"field":"y","type":"quantitative","scale":{"domain":[-500,1500],"nice":false,"zero":false},"axis":null},"text":{"field":"lab","type":"nominal"}}}
   ]}
 ],"spacing":0,"bounds":"flush","resolve":{"scale":{"x":"independent","y":"independent"}}}
],"spacing":0,"resolve":{"scale":{"x":"independent","y":"independent"}}},
{"hconcat":[
  {"width":100,"height":135,"title":{"text":"E","anchor":"start","frame":"bounds","dx":-2,"offset":-12,"fontSize":12},
   "data":{"name":"pts"},"transform":[{"filter":"datum.panel == 'E'"}],
   "encoding":{"x":{"field":"d","type":"quantitative","scale":{"domain":[0.342,6.92],"nice":false,"zero":false},"axis":null}},
   "resolve":{"axis":{"x":"independent"}},
   "layer":[
    {"mark":{"type":"rule","color":"#22c322","opacity":0.55,"strokeWidth":1.2},"encoding":{"x":{"field":"d","type":"quantitative","scale":{"domain":[0.342,6.92],"nice":false,"zero":false},"axis":{"orient":"bottom","offset":33,"ticks":false,"labels":false,"domainWidth":1,"domainColor":"#8a8a8a","title":["Days after","symptom onset"],"titleFontSize":11.5,"titlePadding":2,"titleLineHeight":14}},"y":{"field":"lo","type":"quantitative","scale":{"domain":[-200,800],"nice":false,"zero":false},"axis":{"title":"CCR7 (MFI)","values":[-200,0,200,400,600,800],"tickCount":20,"labelExpr":"'' + datum.value","labelOverlap":false,"labelFontSize":10.5,"titleFontSize":11.5,"titlePadding":16}},"y2":{"field":"hi"}}},
    {"mark":{"type":"tick","orient":"horizontal","color":"#22c322","opacity":0.55,"size":10,"thickness":1.2},"encoding":{"x":{"field":"d","type":"quantitative","scale":{"domain":[0.342,6.92],"nice":false,"zero":false},"axis":{"orient":"bottom","domain":true,"domainColor":"#a0a0a0","domainWidth":1.5,"ticks":true,"values":[1,2,3,4,5,6],"tickCount":20,"labelExpr":"['5-6','7-8','9-10','11-30','180','360'][datum.value - 1]","labelAngle":-45,"labelAlign":"right","labelBaseline":"middle","labelFontSize":10.5,"labelOverlap":false,"labelFlush":false,"labelBound":false,"title":null}},"y":{"field":"hi","type":"quantitative","scale":{"domain":[-200,800],"nice":false,"zero":false}}}},
    {"mark":{"type":"tick","orient":"horizontal","color":"#22c322","opacity":0.55,"size":10,"thickness":1.2},"encoding":{"y":{"field":"lo","type":"quantitative","scale":{"domain":[-200,800],"nice":false,"zero":false}}}},
    {"mark":{"type":"line","color":"#22c322","strokeWidth":1.1,"opacity":0.8},"encoding":{"y":{"field":"mean","type":"quantitative","scale":{"domain":[-200,800],"nice":false,"zero":false}},"detail":{"field":"grp","type":"nominal"}}},
    {"data":{"name":"uc"},"transform":[{"filter":"datum.panel == 'E'"}],"mark":{"type":"rule","color":"#22c322","strokeWidth":3,"strokeDash":[3,2]},"encoding":{"x":{"datum":0.342,"type":"quantitative","scale":{"domain":[0.342,6.92],"nice":false,"zero":false},"axis":null},"x2":{"datum":6.92},"y":{"field":"uc","type":"quantitative","scale":{"domain":[-200,800],"nice":false,"zero":false}}}},
    {"mark":{"type":"point","filled":true,"size":55,"opacity":1,"strokeWidth":1.5},"encoding":{"y":{"field":"mean","type":"quantitative","scale":{"domain":[-200,800],"nice":false,"zero":false}},
      "fill":{"field":"grp","type":"nominal","scale":{"domain":["a-SOFA score ≥ 5","a-SOFA score < 5","UC"],"range":["#22c322","#ffffff","#22c322"]},"legend":{"title":"CCR7","orient":"top","direction":"vertical","titleAnchor":"middle","titleFontSize":12.5,"titleFontWeight":"normal","titlePadding":7,"labelFontSize":10.5,"symbolSize":55,"symbolStrokeWidth":1.5,"rowPadding":0.5,"offset":4,"padding":0,"labelOffset":4}},
      "stroke":{"field":"grp","type":"nominal","scale":{"domain":["a-SOFA score ≥ 5","a-SOFA score < 5","UC"],"range":["#22c322","#22c322","#22c322"]},"legend":{"title":"CCR7","orient":"top","direction":"vertical","titleAnchor":"middle","titleFontSize":12.5,"titleFontWeight":"normal","titlePadding":7,"labelFontSize":10.5,"symbolSize":55,"symbolStrokeWidth":1.5,"rowPadding":0.5,"offset":4,"padding":0,"labelOffset":4}},
      "shape":{"field":"grp","type":"nominal","scale":{"domain":["a-SOFA score ≥ 5","a-SOFA score < 5","UC"],"range":["circle","circle","M-1.35,-0.15H-1.05V0.15H-1.35Z M-0.15,-0.15H0.15V0.15H-0.15Z M1.05,-0.15H1.35V0.15H1.05Z"]},"legend":{"title":"CCR7","orient":"top","direction":"vertical","titleAnchor":"middle","titleFontSize":12.5,"titleFontWeight":"normal","titlePadding":7,"labelFontSize":10.5,"symbolSize":55,"symbolStrokeWidth":1.5,"rowPadding":0.5,"offset":4,"padding":0,"labelOffset":4}}}},
    {"data":{"name":"psig"},"transform":[{"filter":"datum.panel == 'E'"}],"mark":{"type":"text","fontSize":9,"color":"#333","baseline":"alphabetic","dy":-1},"encoding":{"y":{"field":"y","type":"quantitative","scale":{"domain":[-200,800],"nice":false,"zero":false}},"text":{"field":"lab","type":"nominal"}}}
   ]},
  {"width":103,"height":135,"title":{"text":"F","anchor":"start","frame":"bounds","dx":-8,"offset":-12,"fontSize":12},
   "data":{"name":"pts"},"transform":[{"filter":"datum.panel == 'F'"}],
   "encoding":{"x":{"field":"d","type":"quantitative","scale":{"domain":[0.09,6.91],"nice":false,"zero":false},"axis":null}},
   "resolve":{"axis":{"x":"independent"}},
   "layer":[
    {"mark":{"type":"rule","color":"#fe2020","opacity":0.55,"strokeWidth":1.2},"encoding":{"x":{"field":"d","type":"quantitative","scale":{"domain":[0.09,6.91],"nice":false,"zero":false},"axis":{"orient":"bottom","offset":33,"ticks":false,"labels":false,"domainWidth":1,"domainColor":"#8a8a8a","title":["Days after","symptom onset"],"titleFontSize":11.5,"titlePadding":2,"titleLineHeight":14}},"y":{"field":"lo","type":"quantitative","scale":{"domain":[-500,2000],"nice":false,"zero":false},"axis":{"title":"CCR7 (MFI)","values":[-500,0,500,1000,1500,2000],"tickCount":20,"labelExpr":"'' + datum.value","labelOverlap":false,"labelFontSize":10.5,"titleFontSize":11.5,"titlePadding":30}},"y2":{"field":"hi"}}},
    {"mark":{"type":"tick","orient":"horizontal","color":"#fe2020","opacity":0.55,"size":10,"thickness":1.2},"encoding":{"x":{"field":"d","type":"quantitative","scale":{"domain":[0.09,6.91],"nice":false,"zero":false},"axis":{"orient":"bottom","domain":true,"domainColor":"#a0a0a0","domainWidth":1.5,"ticks":true,"values":[1,2,3,4,5,6],"tickCount":20,"labelExpr":"['5-6','7-8','9-10','11-30','180','360'][datum.value - 1]","labelAngle":-45,"labelAlign":"right","labelBaseline":"middle","labelFontSize":10.5,"labelOverlap":false,"labelFlush":false,"labelBound":false,"title":null}},"y":{"field":"hi","type":"quantitative","scale":{"domain":[-500,2000],"nice":false,"zero":false}}}},
    {"mark":{"type":"tick","orient":"horizontal","color":"#fe2020","opacity":0.55,"size":10,"thickness":1.2},"encoding":{"y":{"field":"lo","type":"quantitative","scale":{"domain":[-500,2000],"nice":false,"zero":false}}}},
    {"mark":{"type":"line","color":"#fe2020","strokeWidth":1.1,"opacity":0.8},"encoding":{"y":{"field":"mean","type":"quantitative","scale":{"domain":[-500,2000],"nice":false,"zero":false}},"detail":{"field":"grp","type":"nominal"}}},
    {"data":{"name":"uc"},"transform":[{"filter":"datum.panel == 'F'"}],"mark":{"type":"rule","color":"#fe2020","strokeWidth":3,"strokeDash":[3,2]},"encoding":{"x":{"datum":0.09,"type":"quantitative","scale":{"domain":[0.09,6.91],"nice":false,"zero":false},"axis":null},"x2":{"datum":6.91},"y":{"field":"uc","type":"quantitative","scale":{"domain":[-500,2000],"nice":false,"zero":false}}}},
    {"mark":{"type":"point","filled":true,"size":55,"opacity":1,"strokeWidth":1.5},"encoding":{"y":{"field":"mean","type":"quantitative","scale":{"domain":[-500,2000],"nice":false,"zero":false}},
      "fill":{"field":"grp","type":"nominal","scale":{"domain":["a-SOFA score ≥ 5","a-SOFA score < 5","UC"],"range":["#fe2020","#ffffff","#fe2020"]},"legend":{"title":"CCR7","orient":"top","direction":"vertical","titleAnchor":"middle","titleFontSize":12.5,"titleFontWeight":"normal","titlePadding":7,"labelFontSize":10.5,"symbolSize":55,"symbolStrokeWidth":1.5,"rowPadding":0.5,"offset":4,"padding":0,"labelOffset":4}},
      "stroke":{"field":"grp","type":"nominal","scale":{"domain":["a-SOFA score ≥ 5","a-SOFA score < 5","UC"],"range":["#fe2020","#fe2020","#fe2020"]},"legend":{"title":"CCR7","orient":"top","direction":"vertical","titleAnchor":"middle","titleFontSize":12.5,"titleFontWeight":"normal","titlePadding":7,"labelFontSize":10.5,"symbolSize":55,"symbolStrokeWidth":1.5,"rowPadding":0.5,"offset":4,"padding":0,"labelOffset":4}},
      "shape":{"field":"grp","type":"nominal","scale":{"domain":["a-SOFA score ≥ 5","a-SOFA score < 5","UC"],"range":["circle","circle","M-1.35,-0.15H-1.05V0.15H-1.35Z M-0.15,-0.15H0.15V0.15H-0.15Z M1.05,-0.15H1.35V0.15H1.05Z"]},"legend":{"title":"CCR7","orient":"top","direction":"vertical","titleAnchor":"middle","titleFontSize":12.5,"titleFontWeight":"normal","titlePadding":7,"labelFontSize":10.5,"symbolSize":55,"symbolStrokeWidth":1.5,"rowPadding":0.5,"offset":4,"padding":0,"labelOffset":4}}}},
    {"data":{"name":"psig"},"transform":[{"filter":"datum.panel == 'F'"}],"mark":{"type":"text","fontSize":9,"color":"#333","baseline":"alphabetic","dy":-1},"encoding":{"y":{"field":"y","type":"quantitative","scale":{"domain":[-500,2000],"nice":false,"zero":false}},"text":{"field":"lab","type":"nominal"}}}
   ]},
  {"width":100,"height":135,"title":{"text":"G","anchor":"start","frame":"bounds","dx":-6,"offset":-12,"fontSize":12},
   "data":{"name":"pts"},"transform":[{"filter":"datum.panel == 'G'"}],
   "encoding":{"x":{"field":"d","type":"quantitative","scale":{"domain":[0.35,6.84],"nice":false,"zero":false},"axis":null}},
   "resolve":{"axis":{"x":"independent"}},
   "layer":[
    {"mark":{"type":"rule","color":"#2b50f3","opacity":0.55,"strokeWidth":1.2},"encoding":{"x":{"field":"d","type":"quantitative","scale":{"domain":[0.35,6.84],"nice":false,"zero":false},"axis":{"orient":"bottom","offset":33,"ticks":false,"labels":false,"domainWidth":1,"domainColor":"#8a8a8a","title":["Days after","symptom onset"],"titleFontSize":11.5,"titlePadding":2,"titleLineHeight":14}},"y":{"field":"lo","type":"quantitative","scale":{"domain":[-400,600],"nice":false,"zero":false},"axis":{"title":"CCR7 (MFI)","values":[-400,-200,0,200,400,600],"tickCount":20,"labelExpr":"'' + datum.value","labelOverlap":false,"labelFontSize":10.5,"titleFontSize":11.5,"titlePadding":26}},"y2":{"field":"hi"}}},
    {"mark":{"type":"tick","orient":"horizontal","color":"#2b50f3","opacity":0.55,"size":10,"thickness":1.2},"encoding":{"x":{"field":"d","type":"quantitative","scale":{"domain":[0.35,6.84],"nice":false,"zero":false},"axis":{"orient":"bottom","domain":true,"domainColor":"#a0a0a0","domainWidth":1.5,"ticks":true,"values":[1,2,3,4,5,6],"tickCount":20,"labelExpr":"['5-6','7-8','9-10','11-30','180','360'][datum.value - 1]","labelAngle":-45,"labelAlign":"right","labelBaseline":"middle","labelFontSize":10.5,"labelOverlap":false,"labelFlush":false,"labelBound":false,"title":null}},"y":{"field":"hi","type":"quantitative","scale":{"domain":[-400,600],"nice":false,"zero":false}}}},
    {"mark":{"type":"tick","orient":"horizontal","color":"#2b50f3","opacity":0.55,"size":10,"thickness":1.2},"encoding":{"y":{"field":"lo","type":"quantitative","scale":{"domain":[-400,600],"nice":false,"zero":false}}}},
    {"mark":{"type":"line","color":"#2b50f3","strokeWidth":1.1,"opacity":0.8},"encoding":{"y":{"field":"mean","type":"quantitative","scale":{"domain":[-400,600],"nice":false,"zero":false}},"detail":{"field":"grp","type":"nominal"}}},
    {"data":{"name":"uc"},"transform":[{"filter":"datum.panel == 'G'"}],"mark":{"type":"rule","color":"#2b50f3","strokeWidth":3,"strokeDash":[3,2]},"encoding":{"x":{"datum":0.35,"type":"quantitative","scale":{"domain":[0.35,6.84],"nice":false,"zero":false},"axis":null},"x2":{"datum":6.84},"y":{"field":"uc","type":"quantitative","scale":{"domain":[-400,600],"nice":false,"zero":false}}}},
    {"mark":{"type":"point","filled":true,"size":55,"opacity":1,"strokeWidth":1.5},"encoding":{"y":{"field":"mean","type":"quantitative","scale":{"domain":[-400,600],"nice":false,"zero":false}},
      "fill":{"field":"grp","type":"nominal","scale":{"domain":["a-SOFA score ≥ 5","a-SOFA score < 5","UC"],"range":["#2b50f3","#ffffff","#2b50f3"]},"legend":{"title":"CCR7","orient":"top","direction":"vertical","titleAnchor":"middle","titleFontSize":12.5,"titleFontWeight":"normal","titlePadding":7,"labelFontSize":10.5,"symbolSize":55,"symbolStrokeWidth":1.5,"rowPadding":0.5,"offset":4,"padding":0,"labelOffset":4}},
      "stroke":{"field":"grp","type":"nominal","scale":{"domain":["a-SOFA score ≥ 5","a-SOFA score < 5","UC"],"range":["#2b50f3","#2b50f3","#2b50f3"]},"legend":{"title":"CCR7","orient":"top","direction":"vertical","titleAnchor":"middle","titleFontSize":12.5,"titleFontWeight":"normal","titlePadding":7,"labelFontSize":10.5,"symbolSize":55,"symbolStrokeWidth":1.5,"rowPadding":0.5,"offset":4,"padding":0,"labelOffset":4}},
      "shape":{"field":"grp","type":"nominal","scale":{"domain":["a-SOFA score ≥ 5","a-SOFA score < 5","UC"],"range":["circle","circle","M-1.35,-0.15H-1.05V0.15H-1.35Z M-0.15,-0.15H0.15V0.15H-0.15Z M1.05,-0.15H1.35V0.15H1.05Z"]},"legend":{"title":"CCR7","orient":"top","direction":"vertical","titleAnchor":"middle","titleFontSize":12.5,"titleFontWeight":"normal","titlePadding":7,"labelFontSize":10.5,"symbolSize":55,"symbolStrokeWidth":1.5,"rowPadding":0.5,"offset":4,"padding":0,"labelOffset":4}}}}
   ]},
  {"width":100,"height":135,"title":{"text":"H","anchor":"start","frame":"bounds","dx":-5,"offset":-12,"fontSize":12},
   "data":{"name":"pts"},"transform":[{"filter":"datum.panel == 'H'"}],
   "encoding":{"x":{"field":"d","type":"quantitative","scale":{"domain":[0.29,6.74],"nice":false,"zero":false},"axis":null}},
   "resolve":{"axis":{"x":"independent"}},
   "layer":[
    {"mark":{"type":"rule","color":"#fe2020","opacity":0.55,"strokeWidth":1.2},"encoding":{"x":{"field":"d","type":"quantitative","scale":{"domain":[0.29,6.74],"nice":false,"zero":false},"axis":{"orient":"bottom","offset":33,"ticks":false,"labels":false,"domainWidth":1,"domainColor":"#8a8a8a","title":["Days after","symptom onset"],"titleFontSize":11.5,"titlePadding":2,"titleLineHeight":14}},"y":{"field":"lo","type":"quantitative","scale":{"domain":[0,30000],"nice":false,"zero":false},"axis":{"title":"CCR2 (MFI)","values":[0,10000,20000,30000],"tickCount":20,"labelExpr":"'' + datum.value","labelOverlap":false,"labelFontSize":10.5,"titleFontSize":11.5,"titlePadding":20}},"y2":{"field":"hi"}}},
    {"mark":{"type":"tick","orient":"horizontal","color":"#fe2020","opacity":0.55,"size":10,"thickness":1.2},"encoding":{"x":{"field":"d","type":"quantitative","scale":{"domain":[0.29,6.74],"nice":false,"zero":false},"axis":{"orient":"bottom","domain":true,"domainColor":"#a0a0a0","domainWidth":1.5,"ticks":true,"values":[1,2,3,4,5,6],"tickCount":20,"labelExpr":"['5-6','7-8','9-10','11-30','180','360'][datum.value - 1]","labelAngle":-45,"labelAlign":"right","labelBaseline":"middle","labelFontSize":10.5,"labelOverlap":false,"labelFlush":false,"labelBound":false,"title":null}},"y":{"field":"hi","type":"quantitative","scale":{"domain":[0,30000],"nice":false,"zero":false}}}},
    {"mark":{"type":"tick","orient":"horizontal","color":"#fe2020","opacity":0.55,"size":10,"thickness":1.2},"encoding":{"y":{"field":"lo","type":"quantitative","scale":{"domain":[0,30000],"nice":false,"zero":false}}}},
    {"mark":{"type":"line","color":"#fe2020","strokeWidth":1.1,"opacity":0.8},"encoding":{"y":{"field":"mean","type":"quantitative","scale":{"domain":[0,30000],"nice":false,"zero":false}},"detail":{"field":"grp","type":"nominal"}}},
    {"data":{"name":"uc"},"transform":[{"filter":"datum.panel == 'H'"}],"mark":{"type":"rule","color":"#fe2020","strokeWidth":3,"strokeDash":[3,2]},"encoding":{"x":{"datum":0.29,"type":"quantitative","scale":{"domain":[0.29,6.74],"nice":false,"zero":false},"axis":null},"x2":{"datum":6.74},"y":{"field":"uc","type":"quantitative","scale":{"domain":[0,30000],"nice":false,"zero":false}}}},
    {"mark":{"type":"point","filled":true,"size":55,"opacity":1,"strokeWidth":1.5},"encoding":{"y":{"field":"mean","type":"quantitative","scale":{"domain":[0,30000],"nice":false,"zero":false}},
      "fill":{"field":"grp","type":"nominal","scale":{"domain":["a-SOFA score ≥ 5","a-SOFA score < 5","UC"],"range":["#fe2020","#ffffff","#fe2020"]},"legend":{"title":"CCR2","orient":"top","direction":"vertical","titleAnchor":"middle","titleFontSize":12.5,"titleFontWeight":"normal","titlePadding":7,"labelFontSize":10.5,"symbolSize":55,"symbolStrokeWidth":1.5,"rowPadding":0.5,"offset":4,"padding":0,"labelOffset":4}},
      "stroke":{"field":"grp","type":"nominal","scale":{"domain":["a-SOFA score ≥ 5","a-SOFA score < 5","UC"],"range":["#fe2020","#fe2020","#fe2020"]},"legend":{"title":"CCR2","orient":"top","direction":"vertical","titleAnchor":"middle","titleFontSize":12.5,"titleFontWeight":"normal","titlePadding":7,"labelFontSize":10.5,"symbolSize":55,"symbolStrokeWidth":1.5,"rowPadding":0.5,"offset":4,"padding":0,"labelOffset":4}},
      "shape":{"field":"grp","type":"nominal","scale":{"domain":["a-SOFA score ≥ 5","a-SOFA score < 5","UC"],"range":["circle","circle","M-1.35,-0.15H-1.05V0.15H-1.35Z M-0.15,-0.15H0.15V0.15H-0.15Z M1.05,-0.15H1.35V0.15H1.05Z"]},"legend":{"title":"CCR2","orient":"top","direction":"vertical","titleAnchor":"middle","titleFontSize":12.5,"titleFontWeight":"normal","titlePadding":7,"labelFontSize":10.5,"symbolSize":55,"symbolStrokeWidth":1.5,"rowPadding":0.5,"offset":4,"padding":0,"labelOffset":4}}}}
   ]}
],"spacing":82,"bounds":"flush","resolve":{"scale":{"x":"independent","y":"independent","fill":"independent","shape":"independent","stroke":"independent"},"legend":{"fill":"independent","shape":"independent","stroke":"independent"}}}
]
}
